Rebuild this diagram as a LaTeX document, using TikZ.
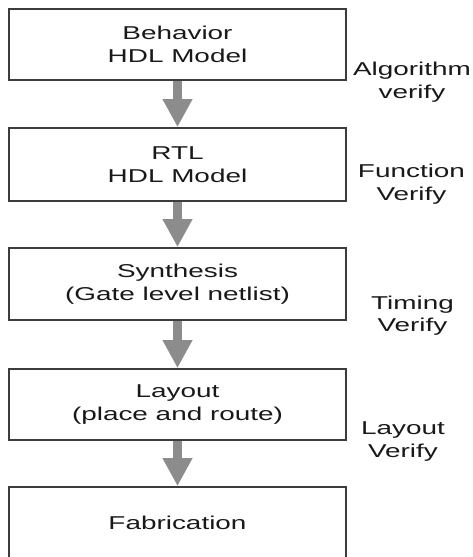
\documentclass[tikz,border=0pt]{standalone}
\usepackage{fontspec}
\setmainfont{Liberation Sans}
\newfontfamily\diagfont[FakeStretch=1.5]{Liberation Sans}
\usetikzlibrary{arrows.meta}
\definecolor{boxline}{RGB}{60,60,60}
\definecolor{arrowgray}{RGB}{140,140,140}
\definecolor{textcol}{RGB}{25,25,25}
\begin{document}
\begin{tikzpicture}[x=1pt,y=-1pt,
  stagebox/.style={draw=boxline, line width=1.8pt, fill=white, minimum width=337pt,
    align=center, inner sep=0pt, text=textcol,
    font=\diagfont\fontsize{18.6}{22.5}\selectfont},
  verlabel/.style={align=center, inner sep=0pt, text=textcol,
    font=\diagfont\fontsize{18.6}{22.5}\selectfont},
  flowarrow/.style={draw=arrowgray, line width=9pt,
    -{Triangle[width=28pt,length=28pt]}}]
\useasboundingbox (0,0) rectangle (473,557);
\clip (0,0) rectangle (473,557);
\fill[white] (0,0) rectangle (473,557);

\node[stagebox, minimum height=71pt] (b1) at (177.5,44.5) {Behavior\\HDL Model};
\node[stagebox, minimum height=73pt] (b2) at (177.5,164.5) {RTL\\HDL Model};
\node[stagebox, minimum height=72pt] (b3) at (177.5,284) {Synthesis\\(Gate level netlist)};
\node[stagebox, minimum height=71pt] (b4) at (177.5,404.5) {Layout\\(place and route)};
\node[stagebox, minimum height=72pt] (b5) at (177.5,523) {Fabrication};

\draw[flowarrow] (b1.south) -- (b2.north);
\draw[flowarrow] (b2.south) -- (b3.north);
\draw[flowarrow] (b3.south) -- (b4.north);
\draw[flowarrow] (b4.south) -- (b5.north);

\node[verlabel] (l1) at (412,82.2) {Algorithm\\verify};
\node[verlabel] (l2) at (411.5,184.2) {Function\\Verify};
\node[verlabel] (l3) at (412.5,315.5) {Timing\\Verify};
\node[verlabel] (l4) at (403,441.5) {Layout\\Verify};
\end{tikzpicture}
\end{document}
